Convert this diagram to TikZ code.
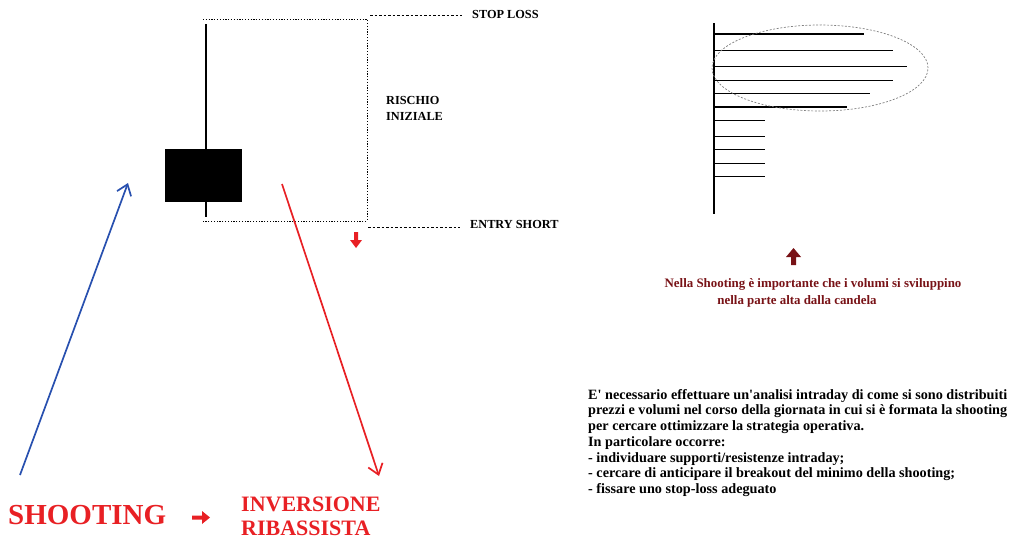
\documentclass[tikz,border=0pt]{standalone}
\usepackage{fontspec}
\setmainfont{Liberation Serif}[Ligatures=TeXOff]
\usetikzlibrary{arrows.meta,shapes.geometric}
\definecolor{bred}{RGB}{232,32,36}
\definecolor{bblue}{RGB}{40,80,175}
\definecolor{dred}{RGB}{120,18,22}
\tikzset{
  lbl/.style={font=\fontsize{12.3}{16}\selectfont\bfseries, anchor=west, inner sep=0pt},
  dots/.style={line width=0.7pt, dash pattern=on 1.2pt off 1.6pt},
  dashl/.style={line width=0.7pt, dash pattern=on 2.5pt off 2pt},
  bigarrow/.style={line width=1.7pt, -{Straight Barb[length=10pt,width=15pt,line width=1.7pt]}},
  vol/.style={line width=1.5pt},
  note/.style={font=\fontsize{12.9}{18}\selectfont\bfseries, text=dred, inner sep=0pt}
}
\begin{document}
\begin{tikzpicture}[x=1pt,y=-1pt]
\useasboundingbox (0,0) rectangle (1016,544);
% candle
\draw[line width=2.5pt] (206,24) -- (206,217);
\node[fill=black, minimum width=77pt, minimum height=53pt, inner sep=0pt, anchor=north west] (body) at (165,149) {};
% dotted risk box
\draw[dots] (203,19) -- (367,19) -- (367,221) -- (203,221);
\draw[dashl] (370,15) -- (462,15);
\draw[dashl] (368,227) -- (460,227);
\node[lbl] (sl) at (472,14) {STOP LOSS};
\node[lbl] (es) at (470,224) {ENTRY SHORT};
\node[lbl, align=left] (ri) at (386,108) {RISCHIO\\INIZIALE};
% small red down arrow
\fill[bred] (354,232) rectangle (358,240) (350,240) -- (362,240) -- (356,248) -- cycle;
% blue / red trend arrows
\coordinate (b1) at (20,475);
\coordinate (b2) at (128,183);
\coordinate (r1) at (282,184);
\coordinate (r2) at (379,476);
\draw[bigarrow, bblue] (b1) -- (b2);
\draw[bigarrow, bred] (r1) -- (r2);
% volume profile
\draw[line width=2.2pt] (714,23) -- (714,214);
\foreach \y/\x in {34/864, 50.7/893, 66.7/907, 80.7/893, 93.3/870, 107/847, 120.3/765, 136.7/765, 149.3/765, 163.7/765, 176.7/765}
  \draw[vol] (714,\y) -- (\x,\y);
\node[draw=gray, ellipse, minimum width=216pt, minimum height=86pt, line width=0.7pt, dash pattern=on 2pt off 1.6pt] (ell) at (820,68) {};
% dark red up arrow
\fill[dred] (791,256) rectangle (796,265) (786,257) -- (801,257) -- (793.5,248) -- cycle;
\node[note] (note1) at (813,284) {Nella Shooting è importante che i volumi si sviluppino};
\node[note] (note2) at (797,301) {nella parte alta dalla candela};
% paragraph
\node[font=\fontsize{14.2}{15.7}\selectfont\bfseries, align=left, anchor=north west, inner sep=0pt] (para) at (588,389) {E' necessario effettuare un'analisi intraday di come si sono distribuiti\\prezzi e volumi nel corso della giornata in cui si è formata la shooting\\per cercare ottimizzare la strategia operativa.\\In particolare occorre:\\- individuare supporti/resistenze intraday;\\- cercare di anticipare il breakout del minimo della shooting;\\- fissare uno stop-loss adeguato};
% bottom titles
\node[font=\fontsize{29}{30}\selectfont\bfseries, text=bred, anchor=west, inner sep=0pt] (sh) at (8,515) {SHOOTING};
\fill[bred] (192,515.5) rectangle (203,519.5) (202,511) -- (202,524) -- (210,517.5) -- cycle;
\node[font=\fontsize{22}{24}\selectfont\bfseries, text=bred, anchor=west, align=left, inner sep=0pt] (inv) at (241,516) {INVERSIONE\\RIBASSISTA};
\end{tikzpicture}
\end{document}
